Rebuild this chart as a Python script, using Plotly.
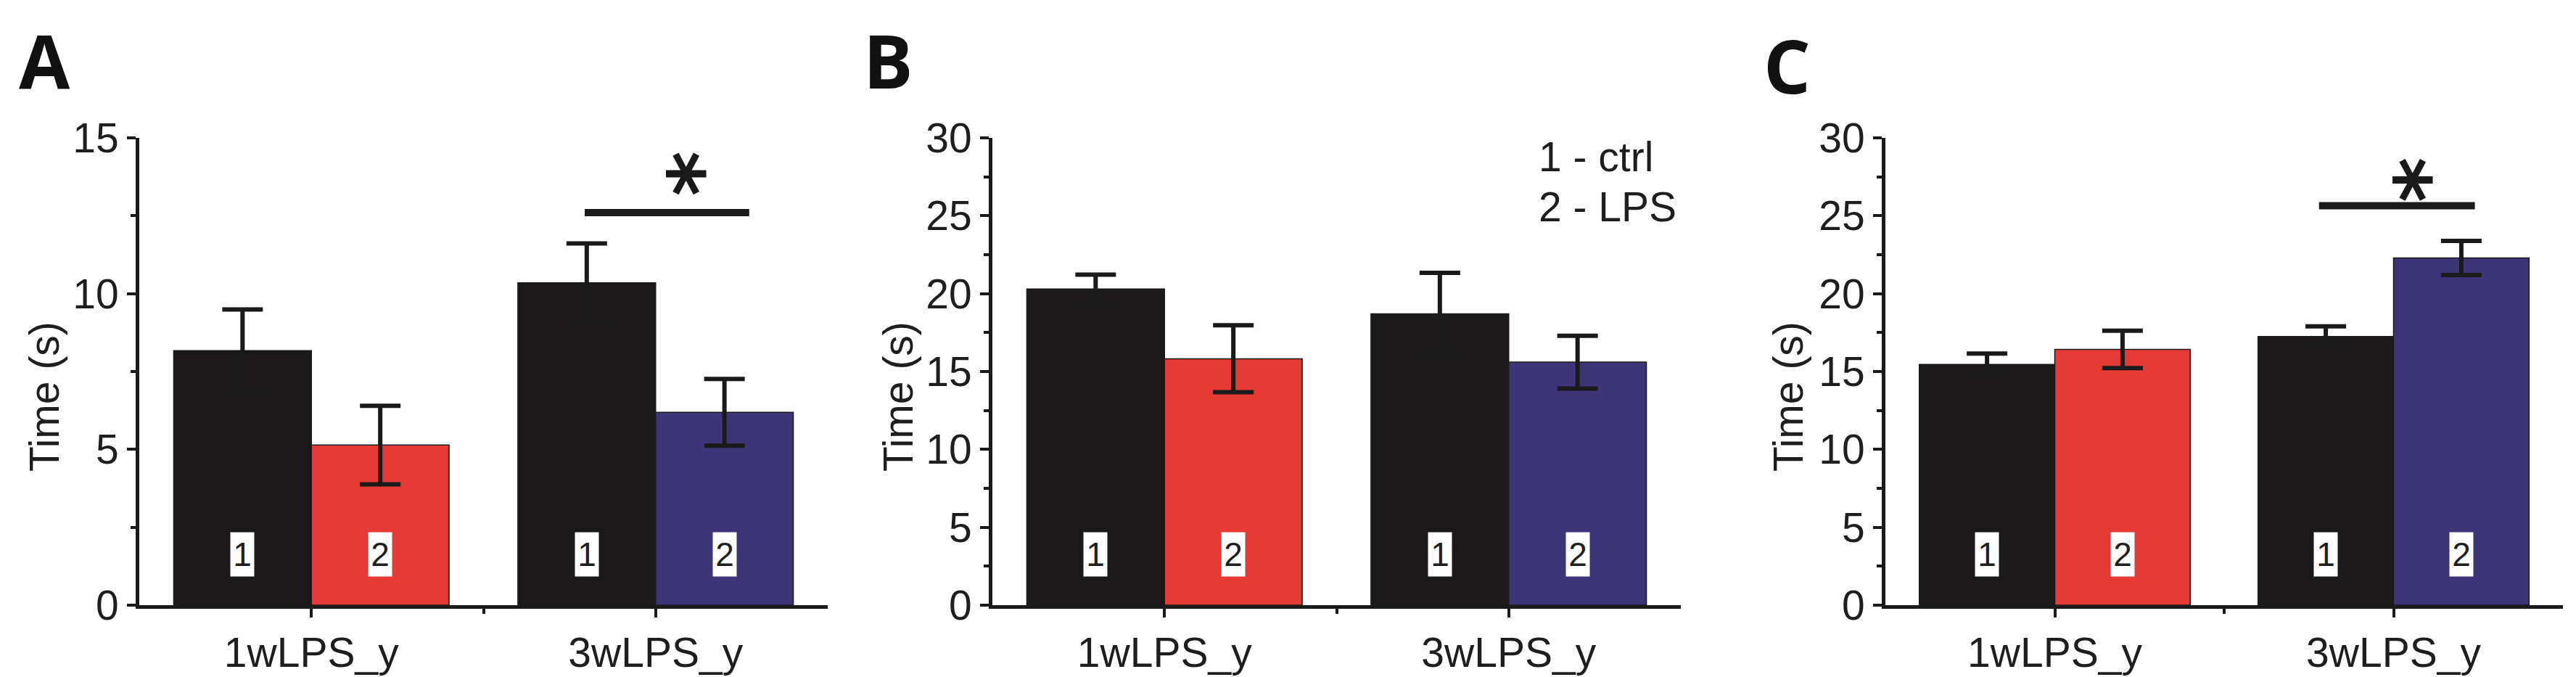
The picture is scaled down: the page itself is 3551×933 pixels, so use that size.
import plotly.graph_objects as go

# groups on the x axis
groups = ['1wLPS_y', '3wLPS_y']
bar_tags = ['1', '2']

# panel A
ctrl_a = [8.17, 10.35]
ctrl_a_err = [1.32, 1.26]
lps_a = [5.14, 6.19]
lps_a_err = [1.26, 1.07]

# panel B
ctrl_b = [20.3, 18.7]
ctrl_b_err = [0.92, 2.63]
lps_b = [15.82, 15.6]
lps_b_err = [2.15, 1.7]

# panel C
ctrl_c = [15.45, 17.25]
ctrl_c_err = [0.7, 0.65]
lps_c = [16.42, 22.29]
lps_c_err = [1.2, 1.1]

y_max = [15, 30, 30]

# significance bars (x from, x to, y) and star position
sig_a = [0.794, 1.272, 12.6]
star_a = [1.047, 13.86]
sig_c = [0.78, 1.24, 25.65]
star_c = [1.013, 27.3]

W, H = 3551, 933
ctrl_col = '#1a1818'
lps_cols = ['#e53935', '#3e3579']
txt_col = '#1e1e1e'
tick_font = dict(family='Liberation Sans, Arial', size=57, color=txt_col)

panels = [
    ('A', ctrl_a, ctrl_a_err, lps_a, lps_a_err),
    ('B', ctrl_b, ctrl_b_err, lps_b, lps_b_err),
    ('C', ctrl_c, ctrl_c_err, lps_c, lps_c_err),
]
# plot areas in pixels (left, right)
x_px = [(184, 1133), (1360, 2309), (2591, 3525)]
y_dom = [1 - 826 / H, 1 - 182 / H]
title_x = [53, 1230, 2457]
letter_pos = [(53, 74), (1216, 74), (2455, 81)]

fig = go.Figure()
annotations = []
shapes = []

for i, (name, ctrl, ctrl_err, lps, lps_err) in enumerate(panels):
    n = '' if i == 0 else str(i + 1)
    xa, ya = 'x' + n, 'y' + n
    x = list(range(len(groups)))
    fig.add_trace(go.Bar(x=x, y=ctrl, xaxis=xa, yaxis=ya, name='ctrl',
                         marker=dict(color=ctrl_col, line=dict(color='#1a1a1a', width=1.5)),
                         error_y=dict(type='data', array=ctrl_err, color='#1a1a1a', thickness=6, width=28),
                         showlegend=False))
    fig.add_trace(go.Bar(x=x, y=lps, xaxis=xa, yaxis=ya, name='LPS',
                         marker=dict(color=lps_cols, line=dict(color='#1a1a1a', width=1.5)),
                         error_y=dict(type='data', array=lps_err, color='#1a1a1a', thickness=6, width=28),
                         showlegend=False))

    l, r = x_px[i]
    fig.update_layout({
        'xaxis' + n: dict(domain=[l / W, r / W], anchor=ya, range=[-0.5, 1.5], automargin=False,
                          tickvals=x, ticktext=groups, ticks='outside', ticklen=12, tickwidth=4,
                          tickcolor='#1a1a1a', showline=True, linewidth=5, linecolor='#1a1a1a',
                          showgrid=False, zeroline=False, tickfont=tick_font,
                          minor=dict(tickvals=[0.5], ticks='outside', ticklen=7, tickwidth=4,
                                     tickcolor='#1a1a1a')),
        'yaxis' + n: dict(domain=y_dom, anchor=xa, range=[0, y_max[i]], dtick=5, automargin=False,
                          ticks='outside', ticklen=12, tickwidth=4, tickcolor='#1a1a1a',
                          showline=True, linewidth=5, linecolor='#1a1a1a',
                          showgrid=False, zeroline=False, tickfont=tick_font,
                          minor=dict(dtick=2.5, ticks='outside', ticklen=7, tickwidth=4,
                                     tickcolor='#1a1a1a')),
    })

    # "1" / "2" tags at the bottom of each bar
    for j in x:
        for k, off in enumerate([-0.2, 0.2]):
            annotations.append(dict(x=j + off, y=0.0606, xref=xa, yref=ya + ' domain',
                                    text=bar_tags[k], showarrow=False, bgcolor='white',
                                    width=32, height=60, borderpad=0,
                                    font=dict(family='Liberation Sans, Arial', size=46, color=txt_col)))

    # y axis title
    annotations.append(dict(x=title_x[i] / W, y=1 - 539 / H, xref='paper', yref='paper',
                            text='Time (s)', textangle=-90, showarrow=False,
                            font=tick_font, xanchor='center', yanchor='middle'))
    # panel letter
    lx, ly = letter_pos[i]
    annotations.append(dict(x=lx / W, y=1 - ly / H, xref='paper', yref='paper', text='<b>%s</b>' % name,
                            showarrow=False, xanchor='center', yanchor='middle',
                            font=dict(family='Open Sans', size=102, color='#111111')))

# significance markers
for (x0, x1, yv), (sx, sy), n in [(sig_a, star_a, ''), (sig_c, star_c, '3')]:
    shapes.append(dict(type='line', xref='x' + n, yref='y' + n, x0=x0, x1=x1, y0=yv, y1=yv,
                       line=dict(color='#1a1a1a', width=10)))
    annotations.append(dict(x=sx, y=sy, xref='x' + n, yref='y' + n, text='<b>*</b>', showarrow=False,
                            textangle=90, font=dict(family='DejaVu Sans', size=120, color='#1a1a1a')))

# legend text in panel B
annotations.append(dict(x=2111 / W, y=1 - 208 / H, xref='paper', yref='paper', text='1 - ctrl',
                        showarrow=False, xanchor='left', yanchor='middle', font=tick_font))
annotations.append(dict(x=2111 / W, y=1 - 277 / H, xref='paper', yref='paper', text='2 - LPS',
                        showarrow=False, xanchor='left', yanchor='middle', font=tick_font))

fig.update_layout(width=W, height=H, margin=dict(l=0, r=0, t=0, b=0),
                  paper_bgcolor='white', plot_bgcolor='white',
                  barmode='group', bargap=0.2, bargroupgap=0,
                  annotations=annotations, shapes=shapes)

fig.write_html('out.html')
